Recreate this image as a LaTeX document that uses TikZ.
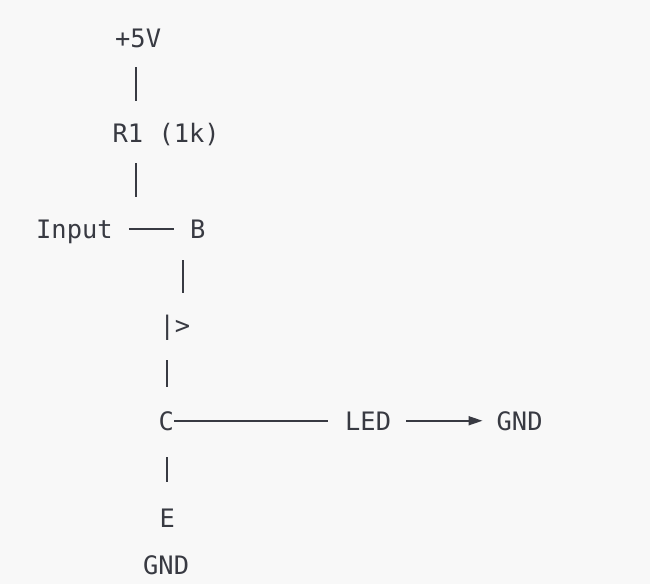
\documentclass[tikz,border=0pt]{standalone}
\usepackage{fontspec}
\setmonofont{DejaVu Sans Mono}
\usetikzlibrary{arrows.meta}
\definecolor{ink}{RGB}{56,58,66}
\definecolor{paper}{RGB}{248,248,248}
\tikzset{
    txt/.style={font=\ttfamily\fontsize{25.4}{30}\selectfont, text=ink, inner sep=0pt,
        anchor=base west, text height=18.5pt, text depth=0pt},
    wire/.style={draw=ink, line width=1.8pt},
    bar/.style={draw=ink, line width=2pt}
}
\begin{document}
\begin{tikzpicture}[x=1pt,y=-1pt]
    \fill[paper] (0,0) rectangle (650,584);
    \useasboundingbox (0,0) rectangle (650,584);
    % Labels, one per text row
    \node[txt] (p5v) at (115,47) {+5V};
    \node[txt] (r1) at (112.5,142) {R1 (1k)};
    \node[txt] (in) at (36,238) {Input};
    \node[txt] (b) at (190,238) {B};
    \node[txt] (q) at (159.5,334) {|>};
    \node[txt] (c) at (158.5,430) {C};
    \node[txt] (led) at (345,430) {LED};
    \node[txt] (gndr) at (496.5,430) {GND};
    \node[txt] (e) at (159.5,527) {E};
    \node[txt] (gndb) at (143,574) {GND};
    % Vertical bars
    \draw[bar, shorten <=20pt, shorten >=22.5pt] (p5v.south -| 136,0) -- (r1.north -| 136,0);
    \draw[bar, shorten <=21pt, shorten >=22.5pt] (r1.south -| 136,0) -- (b.north -| 136,0);
    \draw[bar, shorten <=22pt, shorten >=22.5pt] (b.south -| 183,0) -- (q.north -| 183,0);
    \draw[bar, shorten <=26pt, shorten >=24.5pt] (q.south -| 167,0) -- (c.north -| 167,0);
    \draw[bar, shorten <=27pt, shorten >=26.5pt] (c.south -| 167,0) -- (e.north -| 167,0);
    % Horizontal wires
    \draw[wire, shorten <=16pt, shorten >=16pt] (in.east) -- (b.west);
    \draw[wire] (c.east) -- ([xshift=-17pt]led.west);
    \draw[wire, -{Triangle[length=14pt,width=9pt]}, shorten <=15pt, shorten >=14pt] (led.east) -- (gndr.west);
\end{tikzpicture}
\end{document}
